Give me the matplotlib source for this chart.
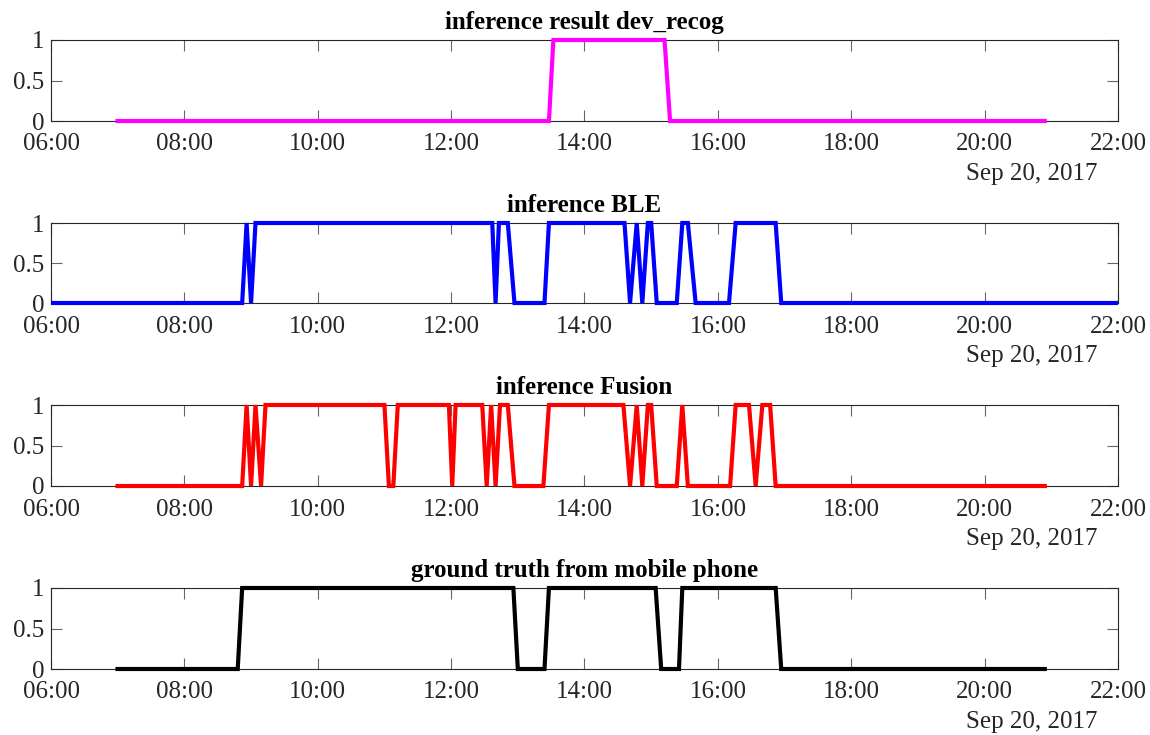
import pandas as pd
import matplotlib
matplotlib.use("Agg")
import matplotlib.pyplot as plt
import matplotlib.dates as mdates

# data: vertices of each polyline (time of day, state 0/1)
titles = ["inference result dev_recog", "inference BLE",
          "inference Fusion", "ground truth from mobile phone"]

devrecog_t = ["06:58", "13:28", "13:32", "15:12", "15:17", "20:56"]
devrecog_v = [0, 0, 1, 1, 0, 0]

ble_t = ["06:00", "08:52", "08:56", "09:00", "09:04", "12:37", "12:40", "12:43",
         "12:51", "12:57", "13:24", "13:28", "14:36", "14:41", "14:47", "14:52",
         "14:57", "15:00", "15:05", "15:23", "15:28", "15:33", "15:40", "16:10",
         "16:16", "16:52", "16:57", "22:00"]
ble_v = [0, 0, 1, 0, 1, 1, 0, 1,
         1, 0, 0, 1, 1, 0, 1, 0,
         1, 1, 0, 0, 1, 1, 0, 0,
         1, 1, 0, 0]

fusion_t = ["06:58", "08:52", "08:56", "09:00", "09:04", "09:09", "09:13", "11:00",
            "11:04", "11:08", "11:12", "11:58", "12:01", "12:04", "12:28", "12:32",
            "12:36", "12:40", "12:44", "12:51", "12:57", "13:23", "13:28", "14:35",
            "14:41", "14:47", "14:52", "14:57", "15:00", "15:05", "15:23", "15:28",
            "15:33", "16:11", "16:16", "16:28", "16:34", "16:40", "16:47", "16:52",
            "20:56"]
fusion_v = [0, 0, 1, 0, 1, 0, 1, 1,
            0, 0, 1, 1, 0, 1, 1, 0,
            1, 0, 1, 1, 0, 0, 1, 1,
            0, 1, 0, 1, 1, 0, 0, 1,
            0, 0, 1, 1, 0, 1, 1, 0,
            0]

truth_t = ["06:58", "08:48", "08:52", "12:56", "13:00", "13:24", "13:28", "15:04",
           "15:09", "15:25", "15:28", "16:52", "16:57", "20:56"]
truth_v = [0, 0, 1, 1, 0, 0, 1, 1,
           0, 0, 1, 1, 0, 0]

colors = ["#ff00ff", "#0000ff", "#ff0000", "#000000"]
series = [(devrecog_t, devrecog_v), (ble_t, ble_v),
          (fusion_t, fusion_v), (truth_t, truth_v)]

day = "2017-09-20 "
xmin = pd.Timestamp(day + "06:00")
xmax = pd.Timestamp(day + "22:00")

plt.rcParams["font.family"] = ["Liberation Serif", "DejaVu Serif"]
plt.rcParams["font.size"] = 18

fig = plt.figure(figsize=(11.5, 7.35), dpi=100)
W, H = 1150.0, 735.0
tops = [40, 223, 405, 588]
bottoms = [121, 303, 486, 669]
left, right = 51, 1118

for i in range(4):
    ax = fig.add_axes([left / W, 1 - bottoms[i] / H,
                       (right - left) / W, (bottoms[i] - tops[i]) / H])
    tt, vv = series[i]
    x = pd.to_datetime([day + s for s in tt])
    ax.plot(x, vv, color=colors[i], lw=3, clip_on=False,
            solid_capstyle="butt", solid_joinstyle="miter", zorder=3)
    ax.set_xlim(xmin, xmax)
    ax.set_ylim(0, 1)
    ax.set_yticks([0, 0.5, 1])
    ax.set_yticklabels(["0", "0.5", "1"])
    ax.xaxis.set_major_locator(mdates.HourLocator(byhour=range(6, 23, 2)))
    ax.xaxis.set_major_formatter(mdates.DateFormatter("%H:%M"))
    ax.tick_params(direction="in", length=8, width=0.8, color="#666666",
                   labelcolor="#262626", top=True, right=True, labelsize=18)
    ax.tick_params(axis="x", pad=9)
    ax.tick_params(axis="y", pad=5)
    for sp in ax.spines.values():
        sp.set_color("#262626")
        sp.set_linewidth(0.8)
    ax.set_title(titles[i], fontweight="bold", fontsize=18, pad=8)
    ax.annotate("Sep 20, 2017", xy=(1, 0), xycoords="axes fraction",
                xytext=(-20, -53), textcoords="offset pixels",
                ha="right", va="center", fontsize=18, color="#262626")

fig.savefig("out.png", dpi=100)
